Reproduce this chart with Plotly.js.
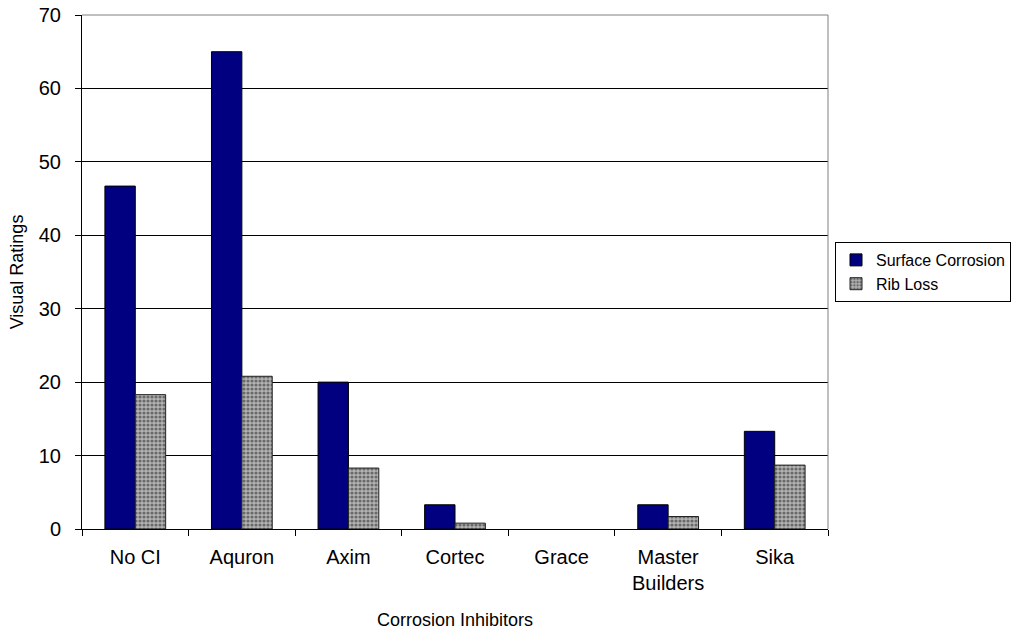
<!DOCTYPE html>
<html><head><meta charset="utf-8">
<script src="https://cdn.plot.ly/plotly-3.0.1.min.js"></script>
<style>html,body{margin:0;padding:0;background:#fff}#chart{width:1017px;height:631px}</style>
</head><body><div id="chart"></div>
<script>
const categories = ["No CI", "Aquron", "Axim", "Cortec", "Grace", "Master<br>Builders", "Sika"];
const surfaceCorrosion = [46.7, 65, 20, 3.3, 0, 3.3, 13.3];
const ribLoss = [18.3, 20.8, 8.3, 0.8, 0, 1.7, 8.7];
const yTicks = [0, 10, 20, 30, 40, 50, 60, 70];

const font = {family: "Liberation Sans, Arial, sans-serif", color: "#000"};
const outline = vals => vals.map(v => (v > 0 ? 1 : 0));

const traces = [
  {type: "bar", name: "Surface Corrosion", x: categories, y: surfaceCorrosion,
   marker: {color: "#000080", line: {color: "#000", width: outline(surfaceCorrosion)}}},
  {type: "bar", name: "Rib Loss", x: categories, y: ribLoss,
   marker: {color: "#9a9a9a", line: {color: "#222", width: outline(ribLoss)},
            pattern: {shape: ".", size: 4, solidity: 0.5, fgcolor: "#6a6a6a", bgcolor: "#b4b4b4"}}}
];

const layout = {
  width: 1017, height: 631,
  margin: {l: 82, r: 189, t: 15, b: 102, autoexpand: false},
  paper_bgcolor: "#fff", plot_bgcolor: "#fff",
  font: Object.assign({size: 18}, font),
  barmode: "group", bargap: 0.43, bargroupgap: 0,
  showlegend: true,
  legend: {x: 1.0094, y: 0.5, xanchor: "left", yanchor: "middle",
           bordercolor: "#000", borderwidth: 1, font: Object.assign({size: 16}, font),
           itemwidth: 30, tracegroupgap: 0},
  xaxis: {type: "category", showgrid: false, showline: true, linecolor: "#000", linewidth: 1,
          ticks: "outside", tickson: "boundaries", ticklen: 6, tickcolor: "#000",
          ticklabelstandoff: 10,
          tickfont: Object.assign({size: 20}, font),
          title: {text: "Corrosion Inhibitors", font: Object.assign({size: 18}, font), standoff: 20},
          zeroline: false},
  yaxis: {range: [0, 70], tickvals: yTicks, showgrid: true, gridcolor: "#000", gridwidth: 1,
          showline: true, linecolor: "#000", linewidth: 1, ticks: "outside", ticklen: 6, tickcolor: "#000",
          ticklabelstandoff: 10,
          tickfont: Object.assign({size: 20}, font), zeroline: false,
          title: {text: "Visual Ratings", font: Object.assign({size: 18}, font), standoff: 10}},
  shapes: [
    {type: "line", xref: "paper", yref: "paper", x0: 0, x1: 1, y0: 1, y1: 1, line: {color: "#808080", width: 1}},
    {type: "line", xref: "paper", yref: "paper", x0: 1, x1: 1, y0: 0, y1: 1, line: {color: "#808080", width: 1}}
  ]
};

Plotly.newPlot("chart", traces, layout, {displayModeBar: false, staticPlot: true});
</script></body></html>
